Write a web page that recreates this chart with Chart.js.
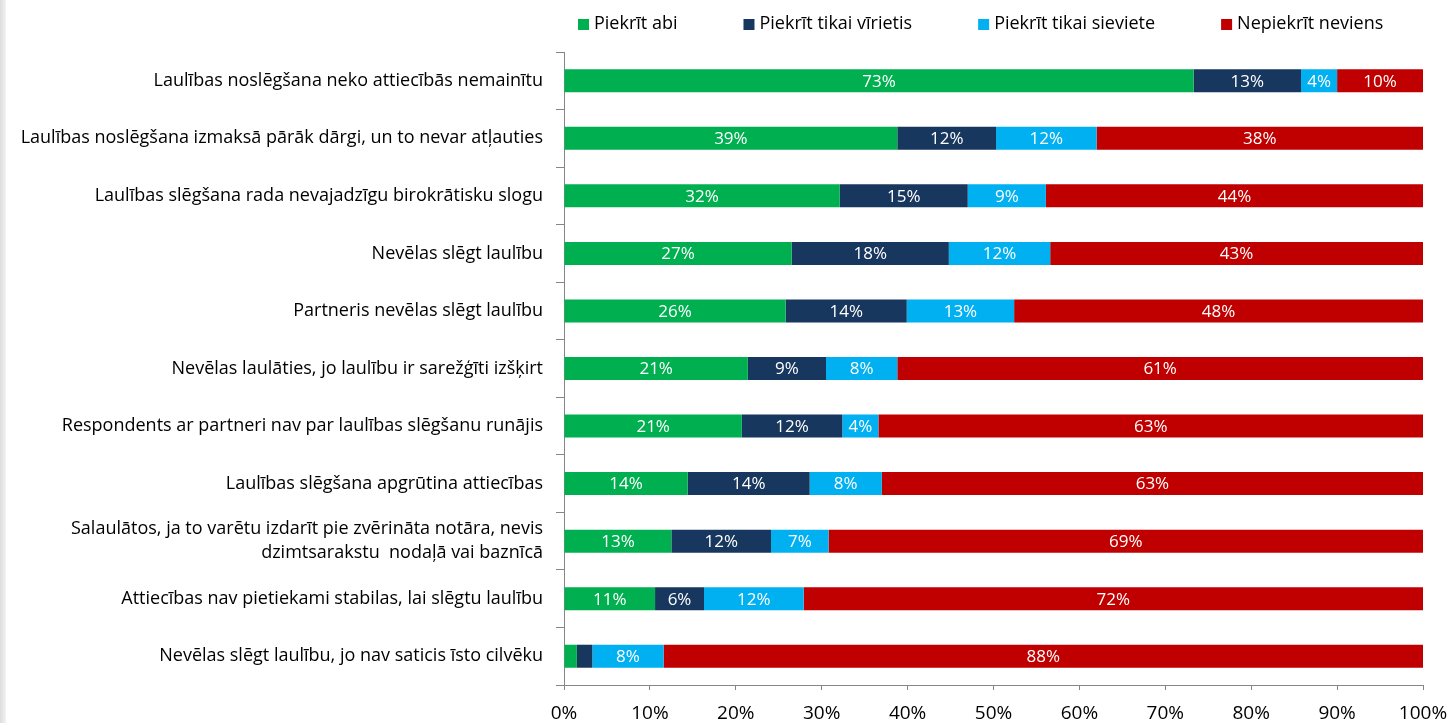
<!DOCTYPE html>
<html lang="lv">
<head>
<meta charset="utf-8">
<title>Laulības slēgšanas iemesli</title>
<script src="https://cdn.jsdelivr.net/npm/chart.js@4.4.1/dist/chart.umd.min.js"></script>
<style>
  html, body { margin: 0; padding: 0; background: #ffffff; }
  #wrap { position: relative; width: 1452px; height: 723px; }
  #edge { position: absolute; left: 0; top: 0; width: 6px; height: 723px;
          background: linear-gradient(to right, #dcdcdc, #f3f3f3); }
  canvas { position: absolute; left: 0; top: 0; }
</style>
</head>
<body>
<div id="wrap">
  <div id="edge"></div>
  <canvas id="chart" width="1452" height="723"></canvas>
</div>
<script>
// Statements (top to bottom)
const categories = [
  "Laulības noslēgšana neko attiecībās nemainītu",
  "Laulības noslēgšana izmaksā pārāk dārgi, un to nevar atļauties",
  "Laulības slēgšana rada nevajadzīgu birokrātisku slogu",
  "Nevēlas slēgt laulību",
  "Partneris nevēlas slēgt laulību",
  "Nevēlas laulāties, jo laulību ir sarežģīti izšķirt",
  "Respondents ar partneri nav par laulības slēgšanu runājis",
  "Laulības slēgšana apgrūtina attiecības",
  ["Salaulātos, ja to varētu izdarīt pie zvērināta notāra, nevis", "dzimtsarakstu  nodaļā vai baznīcā"],
  "Attiecības nav pietiekami stabilas, lai slēgtu laulību",
  "Nevēlas slēgt laulību, jo nav saticis īsto cilvēku"
];

// Share of respondents (%)
const seriesNames = ["Piekrīt abi", "Piekrīt tikai vīrietis", "Piekrīt tikai sieviete", "Nepiekrīt neviens"];
const bothAgree   = [73.3, 38.8, 32.1, 26.5, 25.8, 21.4, 20.7, 14.4, 12.5, 10.6, 1.5];
const onlyMan     = [12.5, 11.5, 14.9, 18.3, 14.1,  9.1, 11.7, 14.2, 11.6,  5.7, 1.8];
const onlyWoman   = [ 4.2, 11.7,  9.1, 11.8, 12.5,  8.3,  4.2,  8.4,  6.7, 11.6, 8.3];
const neither     = [10.0, 38.0, 43.9, 43.4, 47.6, 61.2, 63.4, 63.0, 69.2, 72.1, 88.4];

// X axis tick labels
const xTicks = [0, 10, 20, 30, 40, 50, 60, 70, 80, 90, 100];

const colors = ["#00B050", "#17375E", "#00B0F0", "#C00000"];
const FONT = "'Open Sans', 'DejaVu Sans', sans-serif";

// White percentage labels centred in each segment
const segmentLabels = {
  id: "segmentLabels",
  afterDatasetsDraw(chart) {
    const ctx = chart.ctx;
    ctx.save();
    ctx.font = "17px " + FONT;
    ctx.fillStyle = "#ffffff";
    ctx.textAlign = "center";
    ctx.textBaseline = "middle";
    chart.data.datasets.forEach((ds, di) => {
      const meta = chart.getDatasetMeta(di);
      meta.data.forEach((bar, i) => {
        const v = ds.data[i];
        if (v < 3) return;
        const cx = (bar.x + bar.base) / 2;
        ctx.fillText(Math.round(v) + "%", cx, bar.y + 1);
      });
    });
    ctx.restore();
  }
};

// Legend row above the plot
const topLegend = {
  id: "topLegend",
  afterDraw(chart) {
    const ctx = chart.ctx;
    const area = chart.chartArea;
    ctx.save();
    ctx.font = "18px " + FONT;
    ctx.textBaseline = "middle";
    const box = 11, boxGap = 5, itemGap = 66;
    const widths = seriesNames.map(n => ctx.measureText(n).width);
    let x = area.left + 14;
    const y = 24;
    seriesNames.forEach((n, i) => {
      ctx.fillStyle = colors[i];
      ctx.fillRect(x, y - 5, box, box);
      ctx.fillStyle = "#000000";
      ctx.textAlign = "left";
      ctx.fillText(n, x + box + boxGap, y);
      x += box + boxGap + widths[i] + itemGap;
    });
    ctx.restore();
  }
};

const seriesData = [bothAgree, onlyMan, onlyWoman, neither];

new Chart(document.getElementById("chart"), {
  type: "bar",
  data: {
    labels: categories,
    datasets: seriesNames.map((name, i) => ({
      label: name,
      data: seriesData[i],
      backgroundColor: colors[i],
      borderWidth: 0,
      categoryPercentage: 1.0,
      barPercentage: 0.4
    }))
  },
  options: {
    indexAxis: "y",
    responsive: false,
    animation: false,
    devicePixelRatio: 1,
    layout: { padding: { top: 52, right: 29, bottom: 0, left: 0 } },
    plugins: {
      legend: { display: false },
      tooltip: { enabled: false }
    },
    scales: {
      x: {
        stacked: true,
        min: 0,
        max: 100,
        afterBuildTicks(scale) { scale.ticks = xTicks.map(v => ({ value: v })); },
        afterFit(scale) {
          scale.height = 38;
          scale.paddingLeft = 0;
          scale.paddingRight = 0;
        },
        border: { color: "#868686", width: 1 },
        grid: { drawOnChartArea: false, drawTicks: true, tickLength: 5, color: "#868686" },
        ticks: {
          color: "#000000",
          padding: 12,
          font: { family: FONT, size: 19 },
          callback: v => v + "%"
        }
      },
      y: {
        stacked: true,
        afterFit(scale) { scale.width = 564; },
        border: { color: "#868686", width: 1 },
        grid: { drawOnChartArea: false, offset: true, tickLength: 8, color: "#868686" },
        ticks: {
          color: "#000000",
          padding: 13,
          font: { family: FONT, size: 18, lineHeight: 1.33 },
          autoSkip: false
        }
      }
    }
  },
  plugins: [segmentLabels, topLegend]
});
</script>
</body>
</html>
